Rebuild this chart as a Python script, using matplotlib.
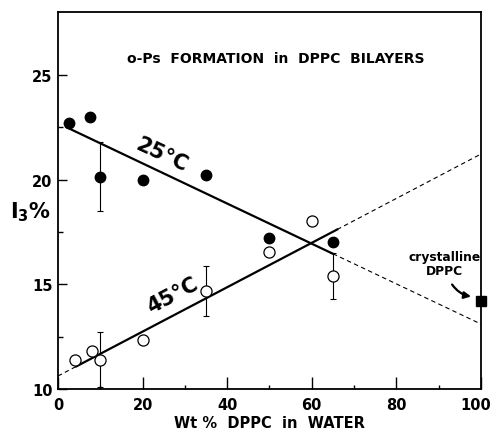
import matplotlib
matplotlib.use("Agg")
import matplotlib.pyplot as plt
import matplotlib.transforms as mtransforms
import numpy as np

# data
wt_25 = [2.5, 7.5, 10, 20, 35, 50, 65]
i3_25 = [22.7, 23.0, 20.1, 20.0, 20.2, 17.2, 17.0]

wt_45 = [4, 8, 10, 20, 35, 50, 60, 65]
i3_45 = [11.4, 11.8, 11.4, 12.35, 14.7, 16.55, 18.0, 15.4]

# error bars (only a few points carry them)
err_x = [10, 10, 35, 65]
err_y = [20.1, 11.4, 14.7, 15.4]
err_lo = [1.6, 1.3, 1.2, 1.1]
err_hi = [1.7, 1.3, 1.15, 1.1]

# fitted lines: intercept, slope, solid range
fit_25 = (22.69, -0.0959, 2, 65)
fit_45 = (10.62, 0.106, 4.3, 66)

cryst_x = [100]
cryst_y = [14.2]

plt.rcParams['font.family'] = ['DejaVu Sans']
plt.rcParams['font.weight'] = 'bold'

fig = plt.figure(figsize=(4.93, 4.39), dpi=100)
ax = fig.add_axes([0.1176, 0.1116, 0.8581, 0.8588])

# fit lines: solid inside data range, dashed extrapolation
for b, m, x0, x1 in (fit_25, fit_45):
    xs = np.array([x0, x1])
    ax.plot(xs, b + m * xs, color='black', lw=1.6, zorder=2)
    if fit_45[2] == x0:
        xd = np.array([0, x0])
        ax.plot(xd, b + m * xd, color='black', lw=0.8, ls=(0, (4, 3)), zorder=2)
    xd = np.array([x1, 100])
    ax.plot(xd, b + m * xd, color='black', lw=0.8, ls=(0, (4, 3)), zorder=2)

ax.errorbar(err_x, err_y, yerr=[err_lo, err_hi], fmt='none', ecolor='black',
            elinewidth=0.8, capsize=2.5, capthick=0.8, zorder=1)

ax.plot(wt_25, i3_25, 'o', color='black', ms=7.5, zorder=3)
ax.plot(wt_45, i3_45, 'o', mfc='white', mec='black', mew=0.9, ms=8, zorder=3)
ax.plot(cryst_x, cryst_y, 's', color='black', ms=6.5, zorder=4, clip_on=False)

ax.set_xlim(0, 100)
ax.set_ylim(10, 28)
ax.set_xticks([0, 20, 40, 60, 80, 100])
ax.set_xticks([10, 30, 50, 70, 90], minor=True)
ax.set_yticks([10, 15, 20, 25])
ax.set_yticks([12.5, 17.5, 22.5], minor=True)
ax.tick_params(which='major', axis='x', direction='in', length=8.5, width=1,
               labelsize=10.5, pad=6)
ax.tick_params(which='minor', axis='x', direction='in', length=3, width=1)
ax.tick_params(which='major', axis='y', direction='in', length=6.5, width=1,
               labelsize=10.5, pad=4)
ax.tick_params(which='minor', axis='y', direction='in', length=3.5, width=1)
for s in ax.spines.values():
    s.set_linewidth(1.3)

# nudge the last x tick label left so it stays inside the figure
last = ax.get_xticklabels()[-1]
last.set_transform(last.get_transform() +
                   mtransforms.ScaledTranslation(-5 / 100, 0, fig.dpi_scale_trans))

ax.set_xlabel('Wt %  DPPC  in  WATER', fontsize=10.5, fontweight='bold', labelpad=2)
ax.text(-0.066, 0.472, r'I$_3$%', transform=ax.transAxes, fontsize=15,
        fontweight='bold', ha='center', va='center')

ax.text(51.5, 25.8, 'o-Ps  FORMATION  in  DPPC  BILAYERS', fontsize=10,
        fontweight='bold', ha='center', va='center')
ax.text(24.6, 21.2, '25°C', fontsize=15, fontweight='bold', rotation=-25,
        ha='center', va='center')
ax.text(27, 14.5, '45°C', fontsize=15, fontweight='bold', rotation=28,
        ha='center', va='center')
ax.text(91.3, 16.0, 'crystalline\nDPPC', fontsize=8.8, fontweight='bold',
        ha='center', va='center', linespacing=1.1)
ax.annotate('', xy=(98.3, 14.4), xytext=(92.8, 15.1),
            arrowprops=dict(arrowstyle='-|>', color='black', lw=1.6,
                            connectionstyle='arc3,rad=0.25', mutation_scale=10))

fig.savefig('out.png', dpi=100)
